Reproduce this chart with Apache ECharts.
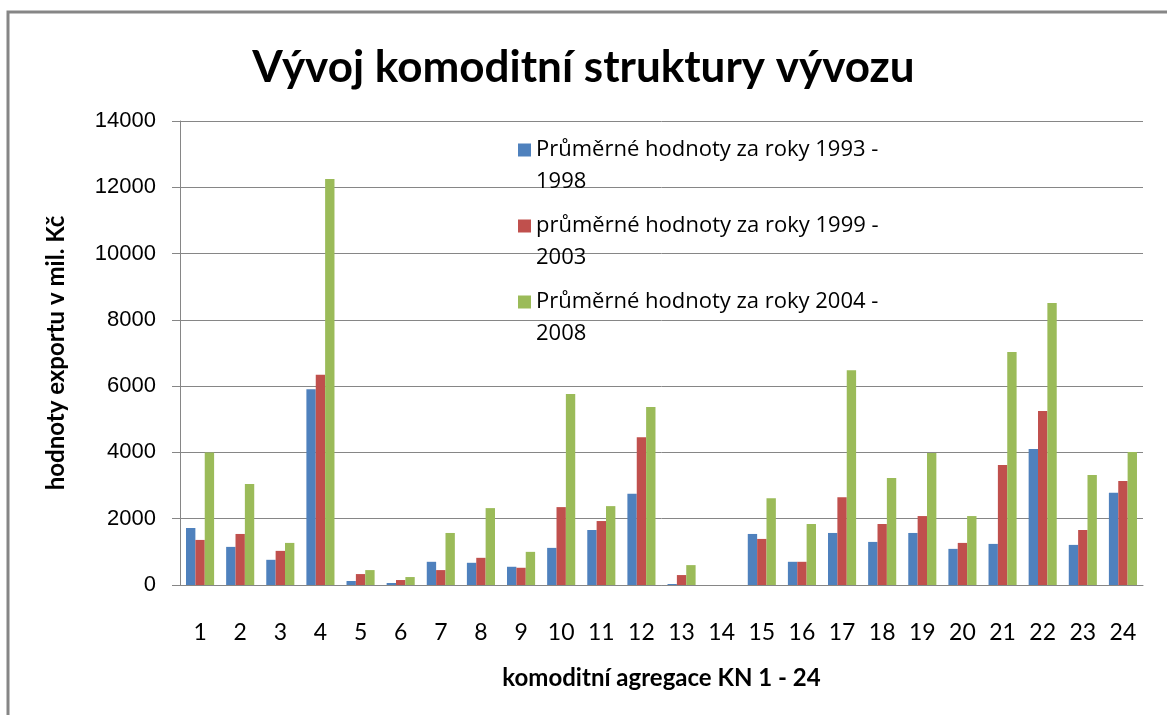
<!DOCTYPE html>
<html>
<head>
<meta charset="utf-8">
<script src="https://cdn.jsdelivr.net/npm/echarts@6/dist/echarts.min.js"></script>
<style>
html,body{margin:0;padding:0;background:#fff;}
#c{width:1167px;height:715px;}
</style>
</head>
<body>
<div id="c"></div>
<script>
var categories = ['1','2','3','4','5','6','7','8','9','10','11','12','13','14','15','16','17','18','19','20','21','22','23','24'];
var seriesNames = [
  'Průměrné hodnoty za roky 1993 - 1998',
  'průměrné hodnoty za roky 1999 - 2003',
  'Průměrné hodnoty za roky 2004 - 2008'
];
var values1993 = [1720,1150,760,5910,120,60,700,670,550,1120,1660,2750,30,0,1540,700,1570,1300,1570,1090,1240,4100,1210,2780];
var values1999 = [1360,1540,1030,6340,330,150,450,820,520,2350,1930,4460,300,0,1390,700,2650,1840,2080,1270,3620,5250,1660,3140];
var values2004 = [4000,3050,1270,12250,450,240,1570,2320,1000,5760,2380,5370,600,0,2620,1840,6480,3230,3980,2080,7030,8510,3320,4010];
var yTicks = {min:0, max:14000, interval:2000};
var titleText = 'Vývoj komoditní struktury vývozu';
var xAxisName = 'komoditní agregace KN 1 - 24';
var yAxisName = 'hodnoty exportu v mil. Kč';
var colors = ['#4F81BD','#C0504D','#9BBB59'];

var chart = echarts.init(document.getElementById('c'));
var gridColor = '#868686';
var option = {
  animation:false,
  color: colors,
  title:{
    text:titleText, left:'center', top:41,
    textStyle:{fontFamily:'Lato, "Open Sans", sans-serif', fontWeight:'bold', fontSize:44, color:'#000'}
  },
  graphic:[{
    type:'rect', silent:true, z:-1,
    shape:{x:8, y:12, width:1200, height:760},
    style:{fill:'none', stroke:'#868686', lineWidth:3}
  }],
  legend:{
    orient:'vertical', left:513, top:97, itemGap:-20,
    itemWidth:13, itemHeight:13, icon:'rect',
    formatter:function(name){
      var i = name.lastIndexOf(' ');
      return ' \n' + name.substring(0,i) + '\n' + name.substring(i+1);
    },
    textStyle:{fontFamily:'"Open Sans", sans-serif', fontSize:22, lineHeight:32, color:'#000'}
  },
  grid:{left:180, right:24, top:121, bottom:130},
  xAxis:{
    type:'category', data:categories,
    axisLine:{lineStyle:{color:gridColor, width:1}},
    axisTick:{show:false},
    axisLabel:{fontFamily:'Lato, "Open Sans", sans-serif', fontSize:23, color:'#000', margin:36},
    name:xAxisName, nameLocation:'middle', nameGap:81,
    nameTextStyle:{fontFamily:'Lato, "Open Sans", sans-serif', fontWeight:'bold', fontSize:24, color:'#000'}
  },
  yAxis:{
    type:'value', min:yTicks.min, max:yTicks.max, interval:yTicks.interval,
    axisLine:{show:true, lineStyle:{color:gridColor, width:1}},
    axisTick:{show:true, length:8, lineStyle:{color:gridColor}},
    splitLine:{lineStyle:{color:gridColor, width:1}},
    axisLabel:{fontFamily:'"Liberation Sans", Arial, sans-serif', fontSize:22, color:'#000', margin:24,
      formatter:function(v){ return String(v); }},
    name:yAxisName, nameLocation:'middle', nameGap:112, nameRotate:90,
    nameTextStyle:{fontFamily:'Lato, "Open Sans", sans-serif', fontWeight:'bold', fontSize:24, color:'#000'}
  },
  series:[
    {name:seriesNames[0], type:'bar', data:values1993, barGap:'0%', barCategoryGap:'30%'},
    {name:seriesNames[1], type:'bar', data:values1999, barGap:'0%', barCategoryGap:'30%'},
    {name:seriesNames[2], type:'bar', data:values2004, barGap:'0%', barCategoryGap:'30%'}
  ]
};
chart.setOption(option);
</script>
</body>
</html>
